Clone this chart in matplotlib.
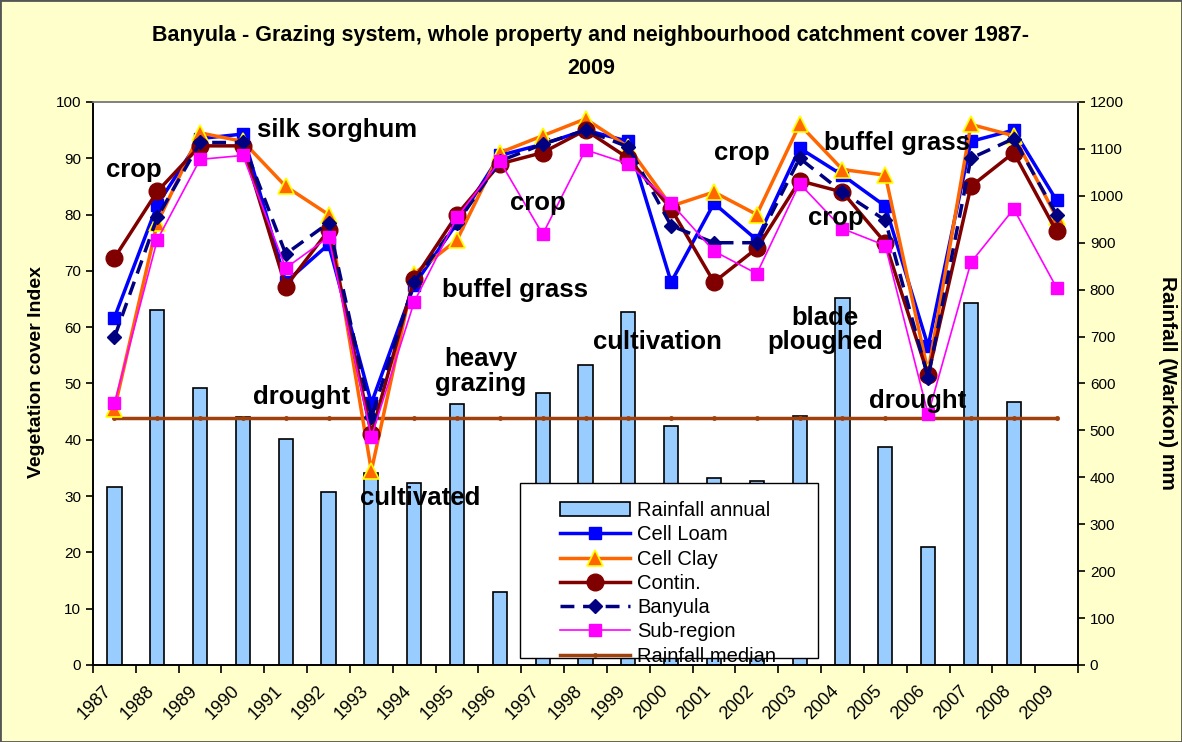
import matplotlib
matplotlib.use("Agg")
import matplotlib.pyplot as plt
from matplotlib.transforms import ScaledTranslation
from matplotlib.patches import Rectangle
import numpy as np

plt.rcParams["font.family"] = ["Liberation Sans", "DejaVu Sans"]

years = [str(y) for y in range(1987, 2010)]

cell_loam = [61.7, 81.7, 93.5, 94.3, 68.0, 74.7, 46.5, 67.5, 78.5, 90.5, 92.5, 95.0,
             93.0, 68.0, 82.0, 75.5, 91.8, 87.0, 81.5, 56.6, 93.0, 95.0, 82.5]
cell_clay = [45.5, 78.5, 94.5, 93.0, 85.0, 80.0, 34.5, 69.5, 75.5, 91.0, 94.0, 97.0,
             92.0, 81.5, 84.0, 80.0, 96.0, 88.0, 87.0, 52.0, 96.0, 94.0, 79.5]
contin = [72.3, 84.1, 92.2, 92.2, 67.2, 77.2, 41.0, 68.5, 80.0, 89.0, 91.0, 95.0,
          90.0, 81.0, 68.0, 74.0, 86.0, 84.0, 75.0, 51.5, 85.0, 91.0, 77.0]
banyula = [58.2, 79.5, 92.8, 92.8, 73.0, 78.5, 44.0, 68.0, 78.5, 89.5, 92.5, 95.0,
           92.0, 78.0, 75.0, 75.0, 90.0, 84.0, 79.0, 51.0, 90.0, 93.5, 80.0]
sub_region = [46.5, 75.5, 89.8, 90.5, 70.5, 76.0, 40.5, 64.5, 79.5, 89.5, 76.5, 91.5,
              89.0, 82.0, 73.5, 69.5, 85.5, 77.5, 74.5, 44.5, 71.5, 81.0, 67.0]

rain_annual = [380, 757, 590, 529, 482, 369, 410, 388, 556, 156, 580, 640,
               753, 510, 399, 392, 531, 783, 465, 252, 772, 561, np.nan]
rain_median = [527] * len(years)

notes = [
    ("crop", 0.45, 88.0),
    ("silk sorghum", 5.19, 95.0),
    ("drought", 4.37, 47.6),
    ("cultivated", 7.15, 29.7),
    ("heavy\ngrazing", 8.55, 52.2),
    ("buffel grass", 9.35, 66.6),
    ("crop", 9.88, 82.0),
    ("cultivation", 12.69, 57.4),
    ("crop", 14.65, 91.0),
    ("blade\nploughed", 16.59, 59.5),
    ("crop", 16.85, 79.4),
    ("buffel grass", 18.27, 92.7),
    ("drought", 18.76, 46.9),
]

x = np.arange(len(years))

fig = plt.figure(figsize=(11.82, 7.42), dpi=100, facecolor="#FFFFCC")
ax2 = fig.add_axes([0.0787, 0.1038, 0.8333, 0.7588])
ax = ax2.twinx()
ax.set_zorder(ax2.get_zorder() + 1)
ax.patch.set_visible(False)
ax2.set_facecolor("white")

# rainfall on the right axis
bars = ax2.bar(x, rain_annual, width=0.33, color="#99CCFF", edgecolor="black",
               linewidth=1.2, label="Rainfall annual")
med, = ax2.plot(x, rain_median, color="#A0410D", lw=2.5, marker="o", ms=2.5,
                label="Rainfall median")

# cover indices on the left axis (ax is the twin, ticks moved to the left)
l1, = ax.plot(x, cell_loam, color="#0000FF", lw=2.5, marker="s", ms=8, label="Cell Loam")
l2, = ax.plot(x, cell_clay, color="#FF6600", lw=2.5, marker="^", ms=12,
              mfc="#FF6600", mec="#FFFF00", mew=1.2, label="Cell Clay")
l3, = ax.plot(x, contin, color="#800000", lw=2.5, marker="o", ms=12, label="Contin.")
l4, = ax.plot(x, banyula, color="#000080", lw=2.5, ls=(0, (4, 2.5)), marker="D", ms=7,
              label="Banyula")
l5, = ax.plot(x, sub_region, color="#FF00FF", lw=1.2, marker="s", ms=8, label="Sub-region")

ax.yaxis.tick_left()
ax2.yaxis.tick_right()

ax.set_ylim(0, 100)
ax.set_yticks(range(0, 101, 10))
ax2.set_ylim(0, 1200)
ax2.set_yticks(range(0, 1201, 100))
ax2.set_xlim(-0.5, len(years) - 0.5)

fig.text(36.5 / 1182, 1 - 372 / 742, "Vegetation cover Index", rotation=90, fontsize=14,
         fontweight="bold", ha="center", va="center")
fig.text(1167 / 1182, 1 - 383 / 742, "Rainfall (Warkon) mm", rotation=270, fontsize=15,
         fontweight="bold", ha="center", va="center")

for a in (ax, ax2):
    a.tick_params(axis="y", labelsize=11, direction="out", length=5, width=1.2)
    for s in a.spines.values():
        s.set_color("black")
        s.set_linewidth(1.2)
    a.spines["top"].set_color("#808080")

ax2.set_xticks(x)
ax2.set_xticklabels(years, rotation=45, ha="right", va="center", rotation_mode="anchor",
                    fontsize=13)
ax2.tick_params(axis="x", which="major", length=0, pad=17)
ax2.set_xticks(np.arange(-0.5, len(years)), minor=True)
ax2.tick_params(axis="x", which="minor", length=6, width=1.2, direction="out")
shift = ScaledTranslation(-4 / 72, 0, fig.dpi_scale_trans)
for lab in ax2.get_xticklabels():
    lab.set_transform(lab.get_transform() + shift)

for txt, xi, yi in notes:
    ax.text(xi, yi, txt, ha="center", va="center", fontsize=18.5, fontweight="bold",
            linespacing=1.05, zorder=6)

fig.text(0.5, 1 - 52 / 742,
         "Banyula - Grazing system, whole property and neighbourhood catchment cover 1987-\n2009",
         ha="center", va="center", fontsize=15.5, fontweight="bold", linespacing=1.79)

# legend box drawn separately so the padding can match the original
ax.add_patch(Rectangle((0.4335, 0.0124), 0.3025, 0.311, transform=ax.transAxes,
                       facecolor="white", edgecolor="black", linewidth=1.0, zorder=4.5))
leg = ax.legend([bars, l1, l2, l3, l4, l5, med],
                ["Rainfall annual", "Cell Loam", "Cell Clay", "Contin.", "Banyula",
                 "Sub-region", "Rainfall median"],
                loc="upper left", bbox_to_anchor=(0.474, 0.291), fontsize=14.5,
                handlelength=3.5, handletextpad=0.35, labelspacing=0.26, borderpad=0,
                borderaxespad=0, frameon=False)

fig.patches.append(Rectangle((0, 0), 1, 1, transform=fig.transFigure, fill=False,
                             edgecolor="#555555", linewidth=2))

fig.savefig("out.png", dpi=100, facecolor=fig.get_facecolor())
